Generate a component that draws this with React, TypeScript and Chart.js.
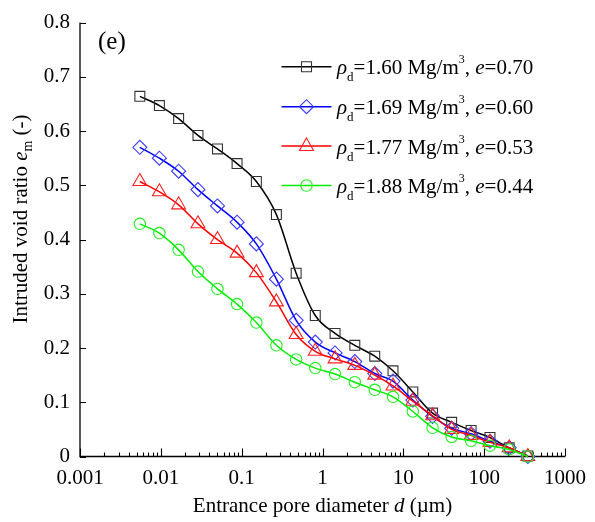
import React, { useEffect, useRef } from 'react';
import { Chart, registerables } from 'chart.js';

Chart.register(...registerables);

// Entrance pore diameter d (µm)
const diameters = [0.0055, 0.0096, 0.0166, 0.0288, 0.0502, 0.0877, 0.152, 0.269, 0.472, 0.814, 1.43, 2.51, 4.43, 7.45, 13.1, 23.0, 39.6, 68.9, 118, 204, 347];

// Intruded void ratio e_m
const em160 = [0.664, 0.647, 0.623, 0.592, 0.567, 0.540, 0.507, 0.446, 0.338, 0.260, 0.227, 0.205, 0.185, 0.158, 0.119, 0.080, 0.063, 0.048, 0.035, 0.016, 0.001];
const em169 = [0.570, 0.550, 0.526, 0.492, 0.462, 0.432, 0.392, 0.327, 0.251, 0.211, 0.191, 0.175, 0.153, 0.139, 0.104, 0.074, 0.052, 0.042, 0.028, 0.016, 0.0];
const em177 = [0.507, 0.488, 0.464, 0.429, 0.400, 0.375, 0.339, 0.285, 0.225, 0.194, 0.180, 0.168, 0.150, 0.130, 0.102, 0.075, 0.050, 0.039, 0.026, 0.016, 0.0];
const em188 = [0.429, 0.412, 0.381, 0.341, 0.309, 0.281, 0.247, 0.205, 0.179, 0.163, 0.152, 0.137, 0.123, 0.110, 0.083, 0.053, 0.036, 0.029, 0.020, 0.013, 0.0];

const densities = ['1.60', '1.69', '1.77', '1.88'];
const voidRatios = ['0.70', '0.60', '0.53', '0.44'];
const lineColors = ['#000000', '#0000ff', '#ff0000', '#00ee00'];
const markerColors = ['#333333', '#3a3aff', '#ff2020', '#22ee22'];
const markerStyles = ['rect', 'rectRot', 'triangle', 'circle'];

const xTickValues = [0.001, 0.01, 0.1, 1, 10, 100, 1000];
const xTickLabels = ['0.001', '0.01', '0.1', '1', '10', '100', '1000'];
const yTickValues = [0, 0.1, 0.2, 0.3, 0.4, 0.5, 0.6, 0.7, 0.8];
const yTickLabels = ['0', '0.1', '0.2', '0.3', '0.4', '0.5', '0.6', '0.7', '0.8'];

const SERIF = "'Liberation Serif', 'Times New Roman', serif";
const FS = 21;

type Part = { t: string; italic?: boolean; size?: number; dy?: number };

function setFont(ctx: CanvasRenderingContext2D, p: Part) {
  ctx.font = `${p.italic ? 'italic ' : ''}${p.size ?? FS}px ${SERIF}`;
}
function measureRich(ctx: CanvasRenderingContext2D, parts: Part[]) {
  let w = 0;
  for (const p of parts) {
    setFont(ctx, p);
    w += ctx.measureText(p.t).width;
  }
  return w;
}
function drawRich(ctx: CanvasRenderingContext2D, x: number, y: number, parts: Part[]) {
  let cx = x;
  ctx.textBaseline = 'alphabetic';
  ctx.textAlign = 'left';
  for (const p of parts) {
    setFont(ctx, p);
    ctx.fillText(p.t, cx, y + (p.dy ?? 0));
    cx += ctx.measureText(p.t).width;
  }
}

function drawMarker(ctx: CanvasRenderingContext2D, style: string, x: number, y: number) {
  ctx.beginPath();
  if (style === 'rect') {
    ctx.rect(x - 5, y - 5, 10, 10);
  } else if (style === 'rectRot') {
    ctx.moveTo(x - 7, y); ctx.lineTo(x, y - 7); ctx.lineTo(x + 7, y); ctx.lineTo(x, y + 7); ctx.closePath();
  } else if (style === 'triangle') {
    ctx.moveTo(x, y - 8); ctx.lineTo(x + 7, y + 4.5); ctx.lineTo(x - 7, y + 4.5); ctx.closePath();
  } else {
    ctx.arc(x, y, 5.7, 0, Math.PI * 2);
  }
  ctx.stroke();
}

const overlayPlugin = {
  id: 'overlay',
  beforeDatasetsDraw(chart: any) {
    const ctx: CanvasRenderingContext2D = chart.ctx;
    const xs = chart.scales.x;
    const ys = chart.scales.y;
    const { left, right, top, bottom } = chart.chartArea;
    ctx.save();
    ctx.strokeStyle = '#000';
    ctx.lineWidth = 1.3;
    ctx.beginPath();
    ctx.moveTo(left, top);
    ctx.lineTo(left, bottom);
    ctx.lineTo(right, bottom);
    ctx.stroke();
    ctx.lineWidth = 1.1;
    ctx.beginPath();
    for (const v of yTickValues) {
      const py = Math.round(ys.getPixelForValue(v)) + 0.5;
      ctx.moveTo(left, py);
      ctx.lineTo(left + 6, py);
    }
    for (const v of xTickValues) {
      const px = Math.round(xs.getPixelForValue(v)) + 0.5;
      ctx.moveTo(px, bottom);
      ctx.lineTo(px, bottom - 8);
      if (v < 1000) {
        for (let k = 2; k <= 9; k++) {
          const mx = Math.round(xs.getPixelForValue(v * k)) + 0.5;
          ctx.moveTo(mx, bottom);
          ctx.lineTo(mx, bottom - 4);
        }
      }
    }
    ctx.stroke();
    ctx.restore();
  },
  afterDraw(chart: any) {
    const ctx: CanvasRenderingContext2D = chart.ctx;
    const { left, right } = chart.chartArea;
    ctx.save();
    ctx.fillStyle = '#000';

    // panel label
    drawRich(ctx, 98, 49, [{ t: '(e)', size: 25 }]);

    // x title
    const xParts: Part[] = [{ t: 'Entrance pore diameter ' }, { t: 'd', italic: true }, { t: ' (µm)' }];
    const xw = measureRich(ctx, xParts);
    drawRich(ctx, (left + right) / 2 - xw / 2, 512, xParts);

    // y title
    const yParts: Part[] = [{ t: 'Intruded void ratio ' }, { t: 'e', italic: true }, { t: 'm', size: 14, dy: 5 }, { t: ' (-)' }];
    const yw = measureRich(ctx, yParts);
    ctx.save();
    ctx.translate(27, 219);
    ctx.rotate(-Math.PI / 2);
    drawRich(ctx, -yw / 2, 0, yParts);
    ctx.restore();

    // legend
    const rows = [66.7, 106.7, 146, 185.5];
    for (let i = 0; i < 4; i++) {
      const ry = rows[i];
      ctx.strokeStyle = lineColors[i];
      ctx.lineWidth = 1.6;
      ctx.beginPath();
      ctx.moveTo(281.5, ry);
      ctx.lineTo(331.5, ry);
      ctx.stroke();
      ctx.strokeStyle = markerColors[i];
      ctx.lineWidth = 1.1;
      drawMarker(ctx, markerStyles[i], 306.5, ry);
      ctx.fillStyle = '#000';
      drawRich(ctx, 337, ry + 7.6, [
        { t: 'ρ', italic: true },
        { t: 'd', size: 13, dy: 7 },
        { t: '=' + densities[i] + ' Mg/m' },
        { t: '3', size: 12, dy: -11 },
        { t: ', ' },
        { t: 'e', italic: true },
        { t: '=' + voidRatios[i] },
      ]);
    }
    ctx.restore();
  },
};

export default function App() {
  const ref = useRef<HTMLCanvasElement>(null);
  useEffect(() => {
    const series = [em160, em169, em177, em188];
    const datasets = series.map((arr, i) => ({
      label: densities[i],
      data: diameters.map((d, j) => ({ x: d, y: arr[j] })),
      borderColor: lineColors[i],
      borderWidth: 1.5,
      cubicInterpolationMode: 'monotone' as const,
      pointStyle: markerStyles[i] as any,
      pointRadius: i === 0 ? 7 : i === 1 ? 7 : i === 2 ? 8 : 5.7,
      pointBorderWidth: 1.1,
      pointBorderColor: markerColors[i],
      pointBackgroundColor: 'rgba(0,0,0,0)',
      fill: false,
      clip: false as any,
      order: 3 - i,
    }));
    const chart = new Chart(ref.current as HTMLCanvasElement, {
      type: 'line',
      data: { datasets },
      options: {
        animation: false,
        responsive: false,
        devicePixelRatio: 1,
        layout: { padding: { top: 18, right: 24, left: 0, bottom: 0 } },
        plugins: { legend: { display: false }, tooltip: { enabled: false }, title: { display: false } },
        scales: {
          x: {
            type: 'logarithmic',
            min: 0.001,
            max: 1000,
            grid: { display: false, drawTicks: false },
            border: { display: false },
            afterBuildTicks: (s: any) => {
              s.ticks = xTickValues.map((v) => ({ value: v, major: true }));
            },
            afterFit: (s: any) => {
              s.height = 65.5;
            },
            ticks: {
              autoSkip: false,
              maxRotation: 0,
              minRotation: 0,
              padding: 9,
              color: '#000',
              font: { family: SERIF, size: FS },
              callback: (_v: any, i: number) => xTickLabels[i],
            },
          },
          y: {
            type: 'linear',
            min: 0,
            max: 0.8,
            grid: { display: false, drawTicks: false },
            border: { display: false },
            afterBuildTicks: (s: any) => {
              s.ticks = yTickValues.map((v) => ({ value: v }));
            },
            afterFit: (s: any) => {
              s.width = 80;
            },
            ticks: {
              autoSkip: false,
              padding: 10,
              color: '#000',
              font: { family: SERIF, size: FS },
              callback: (_v: any, i: number) => yTickLabels[i],
            },
          },
        },
      },
      plugins: [overlayPlugin],
    } as any);
    return () => chart.destroy();
  }, []);
  return (
    <div style={{ position: 'absolute', left: 0, top: 0, width: 595, height: 522, background: '#fff' }}>
      <canvas ref={ref} width={595} height={522} style={{ display: 'block', width: 595, height: 522 }} />
    </div>
  );
}
